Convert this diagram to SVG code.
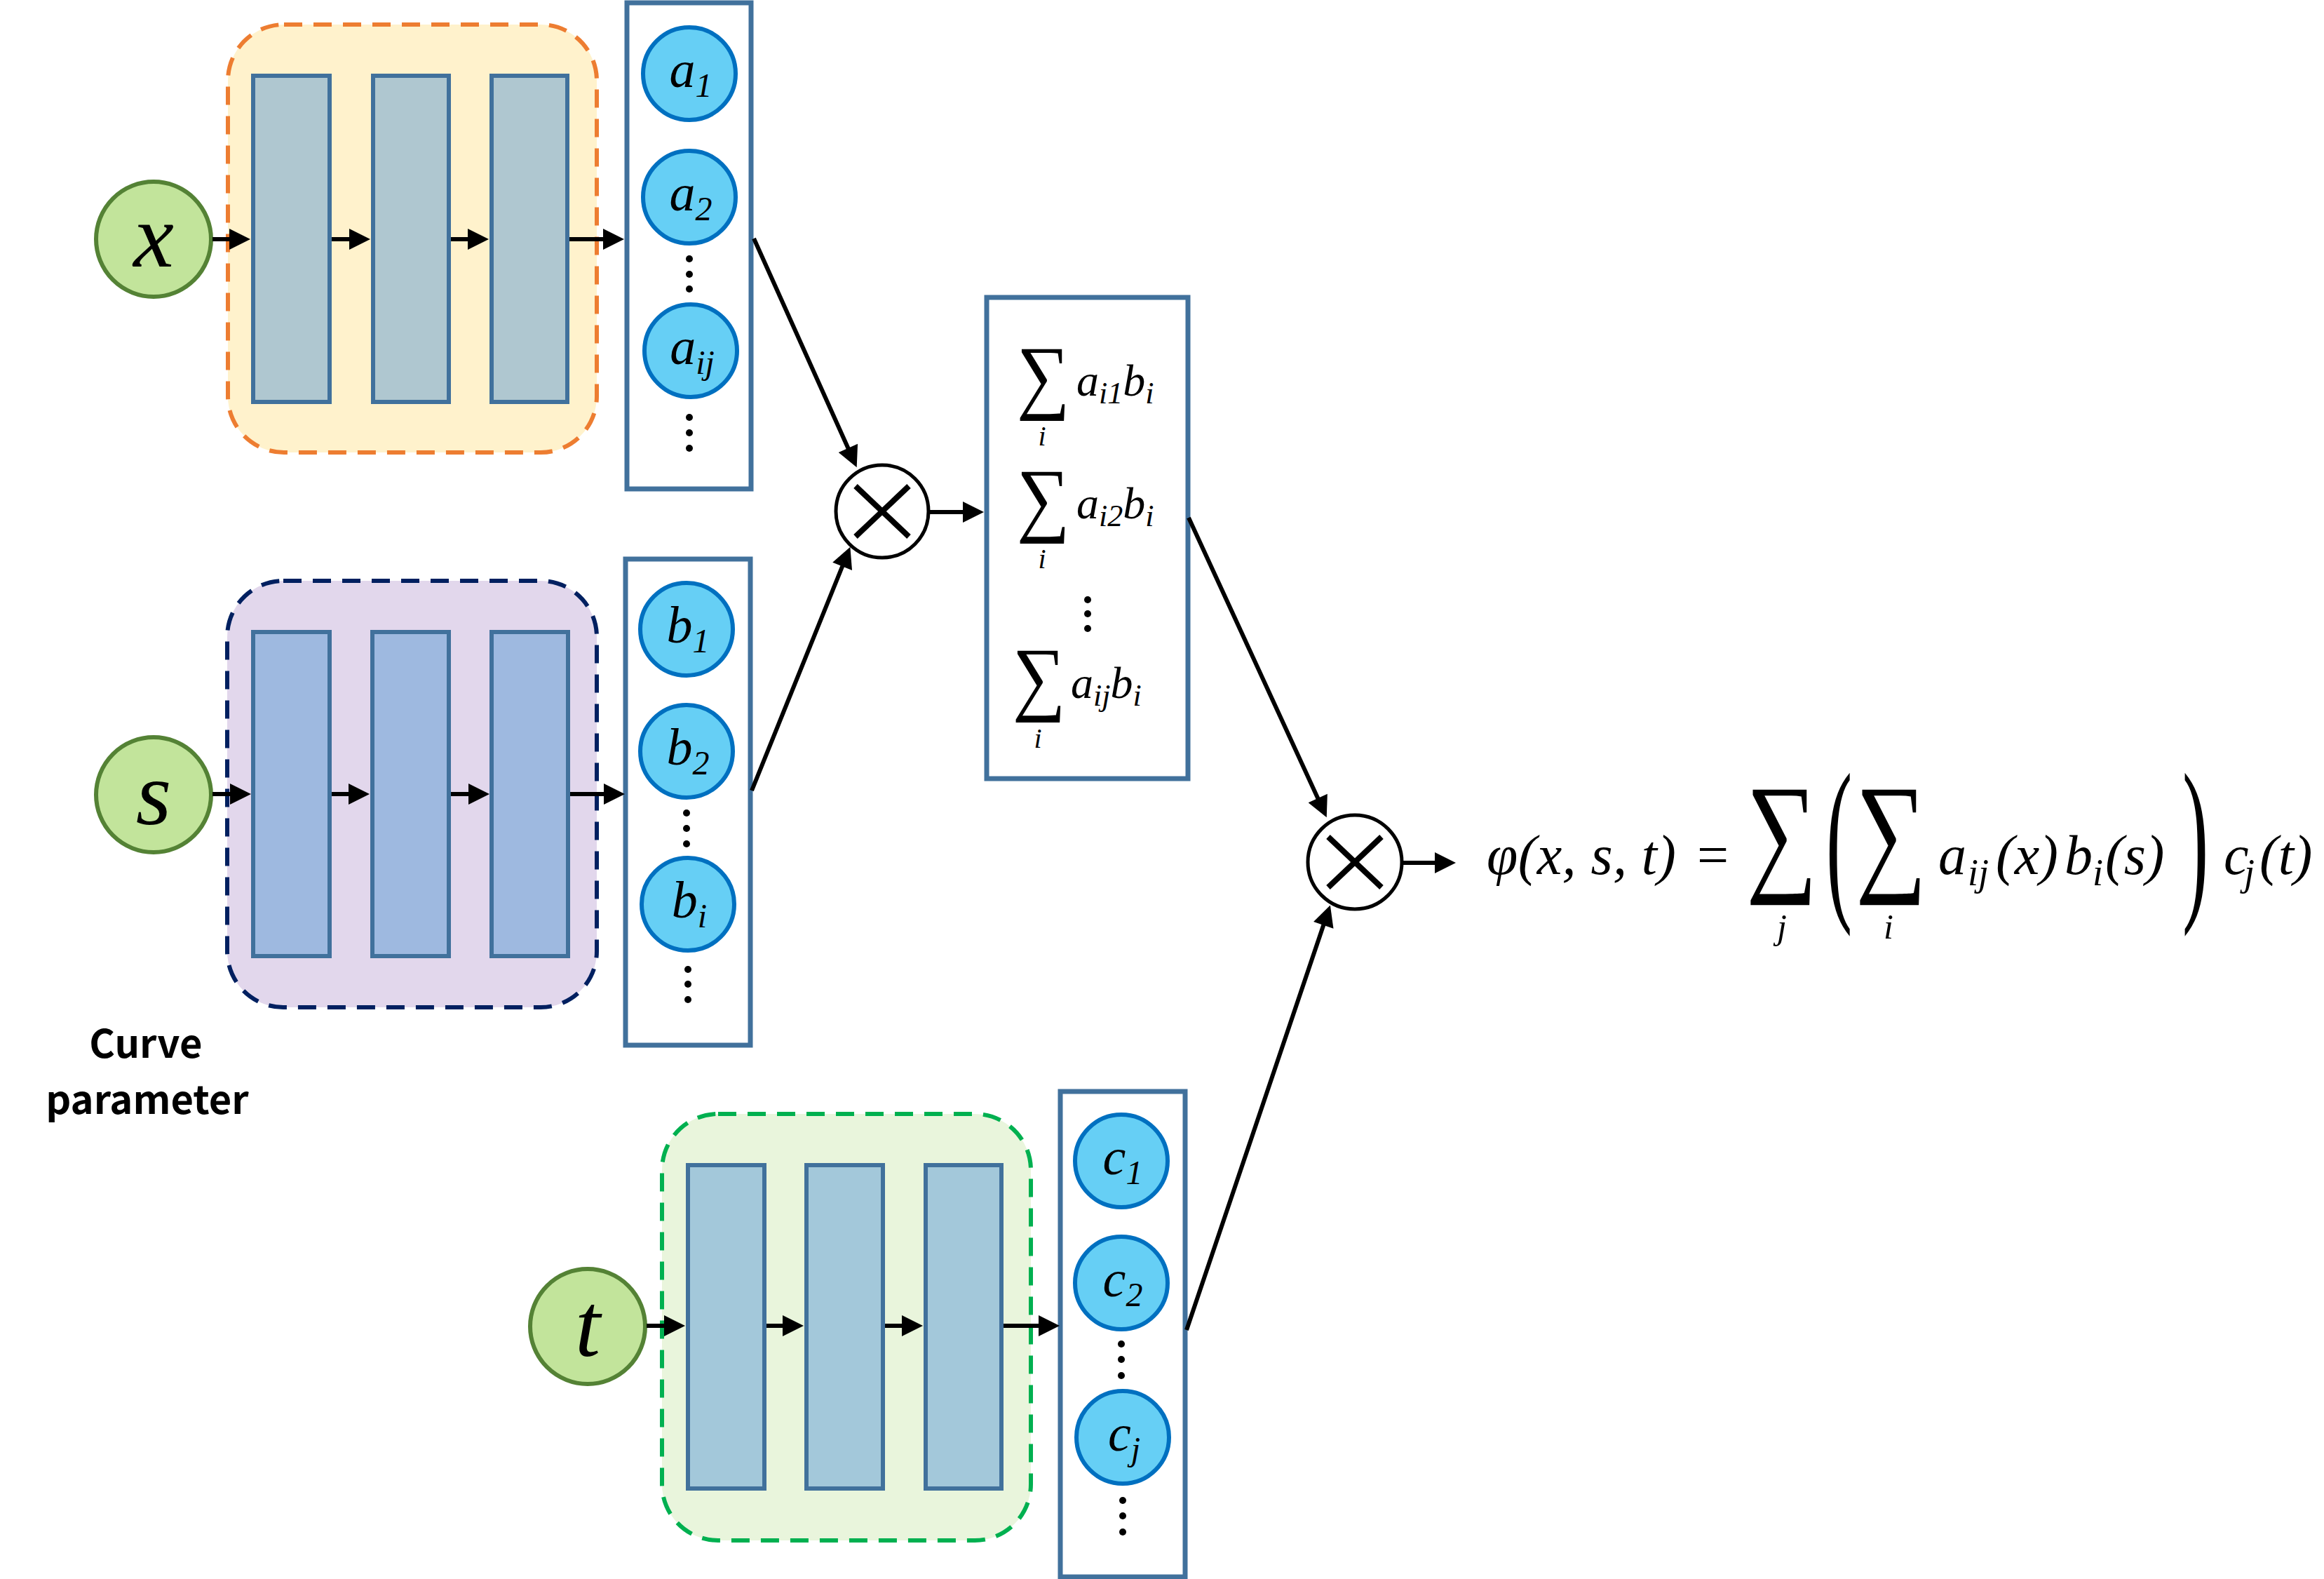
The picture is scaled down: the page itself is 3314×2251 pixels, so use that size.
<svg xmlns="http://www.w3.org/2000/svg" width="3314" height="2251" viewBox="0 0 3314 2251">
<style>
.inp{fill:#C2E49B;stroke:#548235;stroke-width:6}
.layer{stroke:#41719C;stroke-width:6}
.box{fill:#FFFFFF;stroke:#41719C;stroke-width:7}
.unit{fill:#66CFF5;stroke:#0070C0;stroke-width:6}
.mult{fill:#FFFFFF;stroke:#000;stroke-width:5}
.xmark{stroke:#000;stroke-width:8}
.con{stroke:#000;stroke-width:6;fill:none}
.m{font-family:"Liberation Serif","DejaVu Serif",serif;font-style:italic;fill:#000}
.r{font-family:"Liberation Serif","DejaVu Serif",serif;font-style:normal;fill:#000}
.lbl{font-family:"Noto Sans CJK SC","Noto Sans",sans-serif;font-weight:700;fill:#000}
.dot{fill:#000}
</style>
<defs>
<marker id="ah" viewBox="0 0 10 10" refX="7" refY="5" markerWidth="32" markerHeight="30" markerUnits="userSpaceOnUse" orient="auto">
<path d="M0,0 L10,5 L0,10 z" fill="#000"/>
</marker>
</defs>
<rect width="3314" height="2251" fill="#FFFFFF"/>

<!-- X branch -->
<g id="encoder-x">
<rect x="325" y="35" width="526" height="610" rx="80" fill="#FFF2CC" stroke="#ED7D31" stroke-width="6" stroke-dasharray="26 16"/>
<rect class="layer" x="361" y="108" width="109" height="465" fill="#AFC7D0"/>
<rect class="layer" x="532" y="108" width="108" height="465" fill="#AFC7D0"/>
<rect class="layer" x="701" y="108" width="108" height="465" fill="#AFC7D0"/>
</g>
<g id="input-x">
<circle class="inp" cx="219" cy="341" r="82"/>
<text class="m" x="219" y="380" font-size="130" text-anchor="middle">x</text>
</g>
<g id="coeff-a">
<rect class="box" x="894" y="4" width="177" height="693"/>
<circle class="unit" cx="983" cy="105" r="66"/>
<text class="m" x="985" y="124" font-size="74" text-anchor="middle">a<tspan font-size="48" dy="14">1</tspan></text>
<circle class="unit" cx="983" cy="281" r="66"/>
<text class="m" x="985" y="300" font-size="74" text-anchor="middle">a<tspan font-size="48" dy="14">2</tspan></text>
<circle class="dot" cx="983" cy="369" r="5"/><circle class="dot" cx="983" cy="391" r="5"/><circle class="dot" cx="983" cy="412" r="5"/>
<circle class="unit" cx="985" cy="500" r="66"/>
<text class="m" x="987" y="519" font-size="74" text-anchor="middle">a<tspan font-size="48" dy="14">ij</tspan></text>
<circle class="dot" cx="983" cy="595" r="5"/><circle class="dot" cx="983" cy="617" r="5"/><circle class="dot" cx="983" cy="639" r="5"/>
</g>

<!-- S branch -->
<g id="encoder-s">
<rect x="324" y="828" width="527" height="608" rx="80" fill="#E2D7EC" stroke="#002060" stroke-width="6" stroke-dasharray="26 16"/>
<rect class="layer" x="361" y="901" width="109" height="462" fill="#9EB9E0"/>
<rect class="layer" x="531" y="901" width="109" height="462" fill="#9EB9E0"/>
<rect class="layer" x="701" y="901" width="109" height="462" fill="#9EB9E0"/>
</g>
<g id="input-s">
<circle class="inp" cx="219" cy="1133" r="82"/>
<text class="m" x="219" y="1175" font-size="130" text-anchor="middle">s</text>
</g>
<g id="label-curve">
<text class="lbl" x="208" y="1508" font-size="56" text-anchor="middle">Curve</text>
<text class="lbl" x="210" y="1588" font-size="56" text-anchor="middle">parameter</text>
</g>
<g id="coeff-b">
<rect class="box" x="892" y="797" width="178" height="693"/>
<circle class="unit" cx="979" cy="897" r="66"/>
<text class="m" x="981" y="916" font-size="74" text-anchor="middle">b<tspan font-size="48" dy="14">1</tspan></text>
<circle class="unit" cx="979" cy="1071" r="66"/>
<text class="m" x="981" y="1090" font-size="74" text-anchor="middle">b<tspan font-size="48" dy="14">2</tspan></text>
<circle class="dot" cx="979" cy="1159" r="5"/><circle class="dot" cx="979" cy="1181" r="5"/><circle class="dot" cx="979" cy="1203" r="5"/>
<circle class="unit" cx="981" cy="1289" r="66"/>
<text class="m" x="983" y="1308" font-size="74" text-anchor="middle">b<tspan font-size="48" dy="14">i</tspan></text>
<circle class="dot" cx="981" cy="1382" r="5"/><circle class="dot" cx="981" cy="1403" r="5"/><circle class="dot" cx="981" cy="1425" r="5"/>
</g>

<!-- T branch -->
<g id="encoder-t">
<rect x="944" y="1588" width="526" height="608" rx="80" fill="#E9F5DC" stroke="#00B050" stroke-width="6" stroke-dasharray="26 16"/>
<rect class="layer" x="981" y="1661" width="109" height="461" fill="#A3C8DA"/>
<rect class="layer" x="1150" y="1661" width="109" height="461" fill="#A3C8DA"/>
<rect class="layer" x="1320" y="1661" width="108" height="461" fill="#A3C8DA"/>
</g>
<g id="input-t">
<circle class="inp" cx="838" cy="1891" r="82"/>
<text class="m" x="838" y="1933" font-size="130" text-anchor="middle">t</text>
</g>
<g id="coeff-c">
<rect class="box" x="1512" y="1556" width="178" height="692"/>
<circle class="unit" cx="1599" cy="1655" r="66"/>
<text class="m" x="1601" y="1674" font-size="74" text-anchor="middle">c<tspan font-size="48" dy="14">1</tspan></text>
<circle class="unit" cx="1599" cy="1829" r="66"/>
<text class="m" x="1601" y="1848" font-size="74" text-anchor="middle">c<tspan font-size="48" dy="14">2</tspan></text>
<circle class="dot" cx="1599" cy="1916" r="5"/><circle class="dot" cx="1599" cy="1938" r="5"/><circle class="dot" cx="1599" cy="1961" r="5"/>
<circle class="unit" cx="1601" cy="2049" r="66"/>
<text class="m" x="1603" y="2068" font-size="74" text-anchor="middle">c<tspan font-size="48" dy="14">j</tspan></text>
<circle class="dot" cx="1601" cy="2139" r="5"/><circle class="dot" cx="1601" cy="2161" r="5"/><circle class="dot" cx="1601" cy="2184" r="5"/>
</g>

<!-- multiplication nodes -->
<g id="mult-1">
<circle class="mult" cx="1258" cy="729" r="66"/>
<line class="xmark" x1="1220" y1="693" x2="1296" y2="765"/>
<line class="xmark" x1="1296" y1="693" x2="1220" y2="765"/>
</g>
<g id="mult-2">
<circle class="mult" cx="1932" cy="1229" r="67"/>
<line class="xmark" x1="1894" y1="1193" x2="1970" y2="1265"/>
<line class="xmark" x1="1970" y1="1193" x2="1894" y2="1265"/>
</g>

<!-- sum box -->
<g id="sum-box">
<rect class="box" x="1407" y="424" width="287" height="686"/>
<text class="r" transform="translate(1450,575) scale(0.9,1)" font-size="118">∑</text>
<text class="m" x="1486" y="635" font-size="40" text-anchor="middle">i</text>
<text class="m" x="1535" y="564" font-size="64">a<tspan font-size="44" dy="11">i1</tspan><tspan dy="-11">b</tspan><tspan font-size="44" dy="11">i</tspan></text>
<text class="r" transform="translate(1450,750) scale(0.9,1)" font-size="118">∑</text>
<text class="m" x="1486" y="810" font-size="40" text-anchor="middle">i</text>
<text class="m" x="1535" y="739" font-size="64">a<tspan font-size="44" dy="11">i2</tspan><tspan dy="-11">b</tspan><tspan font-size="44" dy="11">i</tspan></text>
<circle class="dot" cx="1551" cy="855" r="5"/><circle class="dot" cx="1551" cy="875" r="5"/><circle class="dot" cx="1551" cy="896" r="5"/>
<text class="r" transform="translate(1444,1005) scale(0.9,1)" font-size="118">∑</text>
<text class="m" x="1480" y="1066" font-size="40" text-anchor="middle">i</text>
<text class="m" x="1527" y="995" font-size="64">a<tspan font-size="44" dy="11">ij</tspan><tspan dy="-11">b</tspan><tspan font-size="44" dy="11">i</tspan></text>
</g>

<!-- formula -->
<g id="formula">
<text class="m" x="2120" y="1246" font-size="80" textLength="270" lengthAdjust="spacing">φ(x, s, t)</text>
<text class="r" x="2420" y="1246" font-size="80">=</text>
<text class="r" transform="translate(2490,1250) scale(0.9,1.2)" font-size="158">∑</text>
<text class="m" x="2541" y="1338" font-size="50" text-anchor="middle">j</text>
<text class="r" transform="translate(2604,1280) scale(1.4,3.2)" font-size="80">(</text>
<text class="r" transform="translate(2646,1250) scale(0.9,1.2)" font-size="158">∑</text>
<text class="m" x="2693" y="1338" font-size="50" text-anchor="middle">i</text>
<text class="m" y="1246" font-size="80"><tspan x="2764">a</tspan><tspan x="2806" dy="16" font-size="54">ij</tspan><tspan x="2846" dy="-16">(x)</tspan><tspan x="2944">b</tspan><tspan x="2984" dy="16" font-size="54">i</tspan><tspan x="3002" dy="-16">(s)</tspan></text>
<text class="r" transform="translate(3112,1280) scale(1.4,3.2)" font-size="80">)</text>
<text class="m" y="1246" font-size="80"><tspan x="3171">c</tspan><tspan x="3200" dy="16" font-size="54">j</tspan><tspan x="3222" dy="-16">(t)</tspan></text>
</g>

<!-- connectors -->
<g id="connectors" class="con">
<line x1="303" y1="341" x2="348" y2="341" marker-end="url(#ah)"/>
<line x1="473" y1="341" x2="519" y2="341" marker-end="url(#ah)"/>
<line x1="643" y1="341" x2="688" y2="341" marker-end="url(#ah)"/>
<line x1="812" y1="341" x2="881" y2="341" marker-end="url(#ah)"/>
<line x1="303" y1="1132" x2="349" y2="1132" marker-end="url(#ah)"/>
<line x1="473" y1="1132" x2="518" y2="1132" marker-end="url(#ah)"/>
<line x1="643" y1="1132" x2="689" y2="1132" marker-end="url(#ah)"/>
<line x1="813" y1="1132" x2="882" y2="1132" marker-end="url(#ah)"/>
<line x1="922" y1="1890" x2="968" y2="1890" marker-end="url(#ah)"/>
<line x1="1093" y1="1890" x2="1137" y2="1890" marker-end="url(#ah)"/>
<line x1="1262" y1="1890" x2="1307" y2="1890" marker-end="url(#ah)"/>
<line x1="1431" y1="1890" x2="1502" y2="1890" marker-end="url(#ah)"/>
<line x1="1075" y1="340" x2="1218" y2="658" marker-end="url(#ah)"/>
<line x1="1072" y1="1127" x2="1209" y2="788" marker-end="url(#ah)"/>
<line x1="1324" y1="730" x2="1394" y2="730" marker-end="url(#ah)"/>
<line x1="1695" y1="738" x2="1888" y2="1157" marker-end="url(#ah)"/>
<line x1="1692" y1="1896" x2="1894" y2="1299" marker-end="url(#ah)"/>
<line x1="1999" y1="1230" x2="2067" y2="1230" marker-end="url(#ah)"/>
</g>
</svg>
